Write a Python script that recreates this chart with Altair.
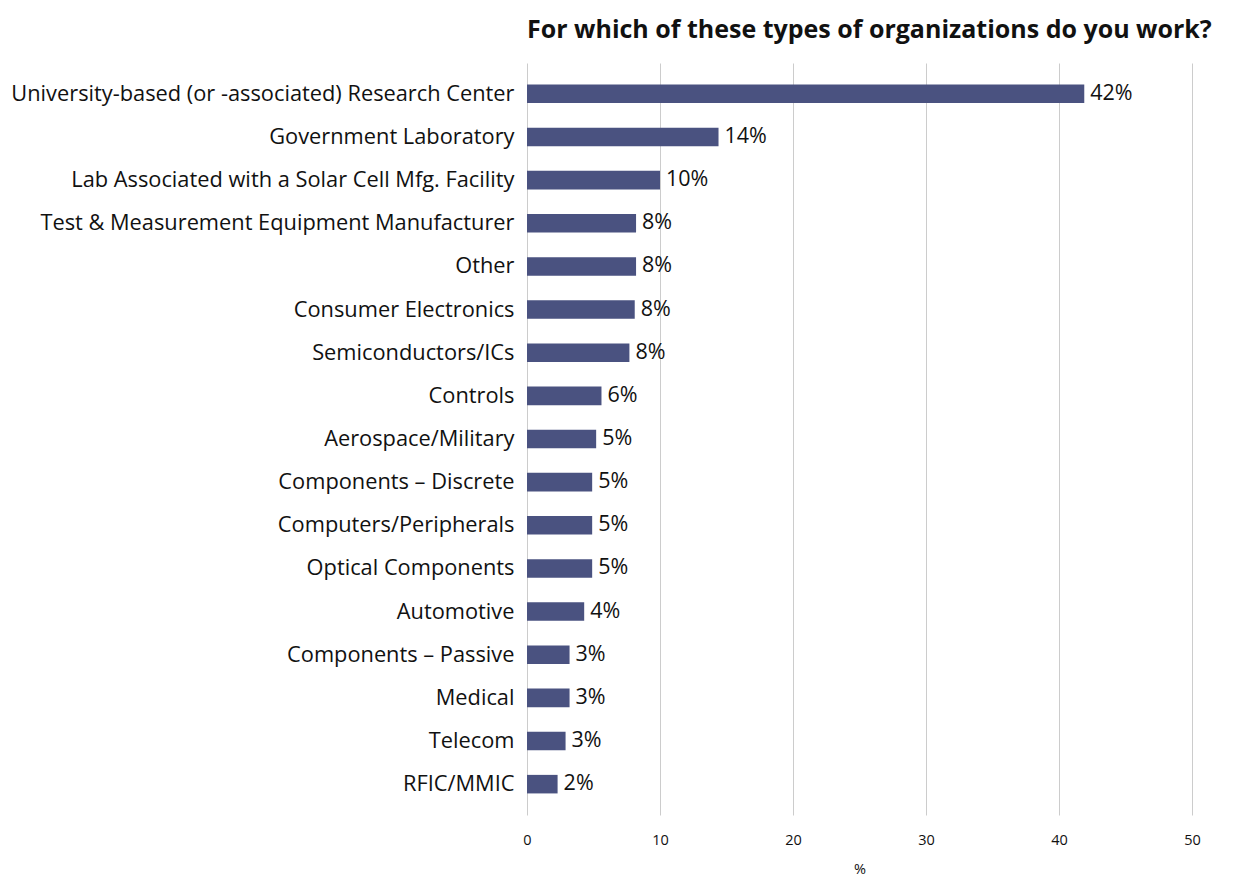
import altair as alt
import pandas as pd

categories = [
    "University-based (or -associated) Research Center",
    "Government Laboratory",
    "Lab Associated with a Solar Cell Mfg. Facility",
    "Test & Measurement Equipment Manufacturer",
    "Other",
    "Consumer Electronics",
    "Semiconductors/ICs",
    "Controls",
    "Aerospace/Military",
    "Components – Discrete",
    "Computers/Peripherals",
    "Optical Components",
    "Automotive",
    "Components – Passive",
    "Medical",
    "Telecom",
    "RFIC/MMIC",
]
values = [41.9, 14.4, 10.0, 8.2, 8.2, 8.1, 7.7, 5.6, 5.2, 4.9, 4.9, 4.9, 4.3, 3.2, 3.2, 2.9, 2.3]
labels = ["42%", "14%", "10%", "8%", "8%", "8%", "8%", "6%", "5%", "5%", "5%", "5%", "4%", "3%", "3%", "3%", "2%"]

df = pd.DataFrame({"category": categories, "value": values, "label": labels})

FONT = "Open Sans"

y_enc = alt.Y(
    "category:N",
    sort=categories,
    scale=alt.Scale(paddingInner=0.57, paddingOuter=0.5),
    axis=alt.Axis(
        title=None, ticks=False, domain=False, labelFontSize=21.8, labelFont=FONT,
        labelColor="#111111", labelPadding=13, labelLimit=600,
        minExtent=519, maxExtent=519, grid=False,
    ),
)
x_enc = alt.X(
    "value:Q",
    scale=alt.Scale(domain=[0, 50], nice=False),
    axis=alt.Axis(
        title="%", values=[0, 10, 20, 30, 40, 50], ticks=False, domain=False,
        grid=True, gridColor="#cccccc", gridWidth=1, labelFontSize=14.5, labelFont=FONT,
        labelColor="#111111", labelPadding=18, labelFlush=False, titleFont=FONT,
        titleFontSize=14.5, titleFontWeight="normal", titleColor="#111111", titlePadding=16,
    ),
)

bars = alt.Chart(df).mark_bar(color="#4a5280").encode(x=x_enc, y=y_enc)
text = alt.Chart(df).mark_text(
    align="left", baseline="middle", dx=6, fontSize=21.5, font=FONT, color="#111111"
).encode(x="value:Q", y=alt.Y("category:N", sort=categories), text="label:N")

chart = (
    alt.layer(bars, text)
    .properties(
        width=665,
        height=752,
        padding={"left": 0, "top": 10, "right": 5, "bottom": 5},
        title=alt.TitleParams(
            "For which of these types of organizations do you work?",
            anchor="start", frame="group", fontSize=25, fontWeight="bold", font=FONT,
            color="#111111", offset=20,
        ),
    )
    .configure_view(stroke=None)
)

chart.save("out.html", embed_options={"renderer": "svg", "actions": False})
